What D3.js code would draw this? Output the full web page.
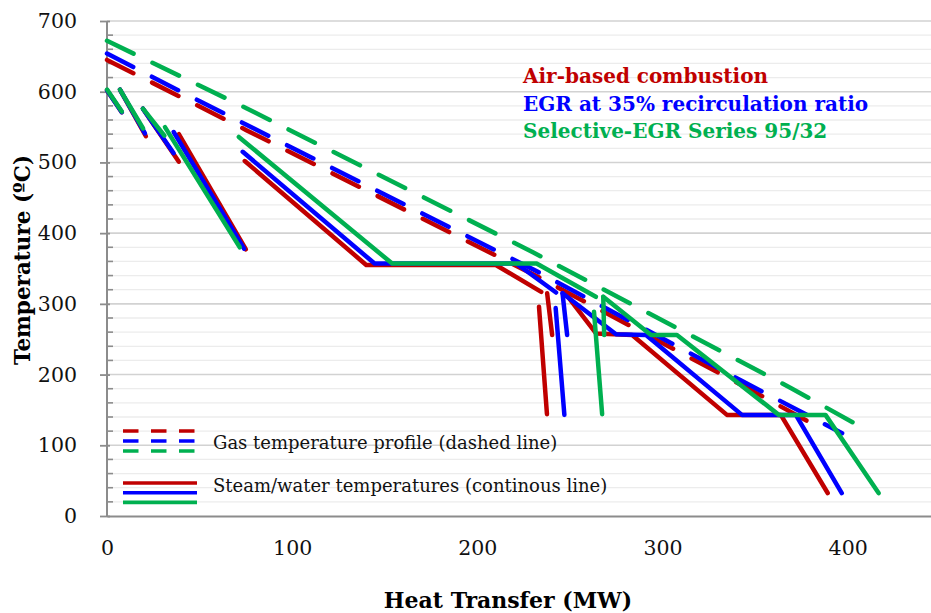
<!DOCTYPE html>
<html>
<head>
<meta charset="utf-8">
<script src="https://cdn.jsdelivr.net/npm/d3@7"></script>
<style>
  body { margin: 0; background: #fff; }
  text { font-family: "DejaVu Serif", serif; }
</style>
</head>
<body>
<div id="chart"></div>
<script>
// tick values
var xTicks = [0, 100, 200, 300, 400]
var yTicks = [0, 100, 200, 300, 400, 500, 600, 700]

// gas temperature profiles (MW, degC) - dashed
var gasAir = [[0, 645], [75, 546], [230, 342], [345, 182], [385, 124.5]]
var gasEgr = [[0, 654], [40, 600], [230, 349], [344, 189.5], [397, 117]]
var gasSel = [[0, 672], [75, 577], [230, 373], [370, 180], [410, 122]]

// steam / water temperatures - one array per heat exchanger section
var steamAir = [
	[[0, 602], [8, 571]],
	[[7, 603], [21, 537]],
	[[19.4, 576], [38.8, 501]],
	[[38.8, 540], [75, 377]],
	[[74.4, 502], [140, 355], [210, 355], [234.5, 317]],
	[[237.7, 315], [240.4, 256]],
	[[233.3, 296], [237.6, 144]],
	[[246.9, 317], [264.2, 258], [283.6, 256], [334.8, 143], [363.9, 143], [389.2, 32.5]]
]
var steamEgr = [
	[[0, 602], [8, 571]],
	[[7, 603], [20.5, 541]],
	[[19.4, 576], [36, 513]],
	[[36, 543], [74, 378]],
	[[73.3, 515], [144.5, 357], [221, 357], [242.5, 316]],
	[[246, 315], [248.5, 256]],
	[[242.3, 294], [247, 143]],
	[[246, 315], [274.9, 257], [291.1, 256], [342.9, 143], [372, 143], [396.8, 32.5]]
]
var steamSel = [
	[[0, 603], [8, 572]],
	[[7, 603], [19.5, 548]],
	[[19.4, 576], [31, 538]],
	[[31.3, 550], [71.7, 380]],
	[[71.2, 536], [154, 357], [232, 357], [264, 310]],
	[[268, 310], [268.5, 256]],
	[[263, 289], [267.4, 144]],
	[[268, 310], [293.8, 256], [307.8, 256], [362.8, 143], [388, 143], [416.7, 32.5]]
]

var seriesNames = ["Air-based combustion", "EGR at 35% recirculation ratio", "Selective-EGR Series 95/32"]
var seriesColours = ["#C00000", "#0000FF", "#00B050"]
var legendLabels = ["Gas temperature profile (dashed line)", "Steam/water temperatures (continous line)"]

var w = 931, h = 613
var margin = {left: 107, right: 0, top: 21, bottom: 97}

var svg = d3.select("#chart")
	.append("svg")
	.attr("width", w)
	.attr("height", h)

var x = d3.scaleLinear().domain([0, 445]).range([margin.left, w - margin.right])
var y = d3.scaleLinear().domain([0, 700]).range([h - margin.bottom, margin.top])

// minor grid every 20
var minor = d3.range(20, 700, 20).filter(function(d) { return d % 100 != 0 })
svg.append("g").selectAll("line")
	.data(minor)
	.enter().append("line")
	.attr("x1", x(0)).attr("x2", x(445))
	.attr("y1", function(d) { return y(d) }).attr("y2", function(d) { return y(d) })
	.style("stroke", "#ececec").style("stroke-width", 1.3)

// major grid
svg.append("g").selectAll("line")
	.data(yTicks.slice(1))
	.enter().append("line")
	.attr("x1", x(0)).attr("x2", x(445))
	.attr("y1", function(d) { return y(d) }).attr("y2", function(d) { return y(d) })
	.style("stroke", "#d2d2d2").style("stroke-width", 1.6)

// y axis with outward major ticks
var yAxis = svg.append("g")
	.attr("transform", "translate(" + x(0) + ",0)")
	.call(d3.axisLeft(y).tickValues(yTicks).tickSize(7).tickPadding(23))
yAxis.select(".domain").remove()
yAxis.selectAll("line").style("stroke", "#8c8c8c").style("stroke-width", 1.8).attr("x2", -7).attr("x1", 3)
yAxis.selectAll("text").style("font-size", "20.5px").style("fill", "#111")

// inward minor ticks
svg.append("g").selectAll("line")
	.data(minor)
	.enter().append("line")
	.attr("x1", x(0)).attr("x2", x(0) + 6)
	.attr("y1", function(d) { return y(d) }).attr("y2", function(d) { return y(d) })
	.style("stroke", "#8c8c8c").style("stroke-width", 1.6)

svg.append("line")
	.attr("x1", x(0)).attr("x2", x(0))
	.attr("y1", y(0)).attr("y2", y(700))
	.style("stroke", "#8c8c8c").style("stroke-width", 2)

// x axis
var xAxis = svg.append("g")
	.attr("transform", "translate(0," + y(0) + ")")
	.call(d3.axisBottom(x).tickValues(xTicks).tickSize(0).tickPadding(24))
xAxis.select(".domain").style("stroke", "#8c8c8c").style("stroke-width", 2)
xAxis.selectAll("text").style("font-size", "20.5px").style("fill", "#111")

// axis titles
svg.append("text")
	.attr("x", 508).attr("y", 608)
	.attr("text-anchor", "middle")
	.style("font-size", "22px").style("font-weight", "bold")
	.text("Heat Transfer (MW)")

svg.append("text")
	.attr("transform", "translate(30,260) rotate(-90)")
	.attr("text-anchor", "middle")
	.style("font-size", "21.5px").style("font-weight", "bold")
	.text("Temperature (ºC)")

var line = d3.line()
	.x(function(d) { return x(d[0]) })
	.y(function(d) { return y(d[1]) })

var gas = [gasAir, gasEgr, gasSel]
var steam = [steamAir, steamEgr, steamSel]

var linesG = svg.append("g")
	.style("fill", "none")
	.style("stroke-linecap", "round")
	.style("stroke-linejoin", "round")

gas.forEach(function(g, i) {
	linesG.append("path")
		.attr("d", line(g))
		.style("stroke", seriesColours[i])
		.style("stroke-width", 4.5)
		.style("stroke-dasharray", "29.5,21")

	linesG.selectAll(".steam" + i)
		.data(steam[i])
		.enter().append("path")
		.attr("class", "steam" + i)
		.attr("d", line)
		.style("stroke", seriesColours[i])
		.style("stroke-width", 4.5)
})

// series legend, top right
svg.append("g").selectAll("text")
	.data(seriesNames)
	.enter().append("text")
	.attr("x", 523)
	.attr("y", function(d, i) { return 83 + i * 27.5 })
	.style("font-size", "20px").style("font-weight", "bold")
	.style("fill", function(d, i) { return seriesColours[i] })
	.text(function(d) { return d })

// line style legend, bottom left
var leg = svg.append("g")
seriesColours.forEach(function(c, i) {
	leg.append("line")
		.attr("x1", 123).attr("x2", 195)
		.attr("y1", 431 + i * 10).attr("y2", 431 + i * 10)
		.style("stroke", c).style("stroke-width", 3.6)
		.style("stroke-dasharray", "15.5,12.5")
	leg.append("line")
		.attr("x1", 123).attr("x2", 197)
		.attr("y1", 483 + i * 9.7).attr("y2", 483 + i * 9.7)
		.style("stroke", c).style("stroke-width", 3.6)
})
leg.selectAll("text")
	.data(legendLabels)
	.enter().append("text")
	.attr("x", 213)
	.attr("y", function(d, i) { return 449 + i * 43 })
	.style("font-size", "18px").style("fill", "#111")
	.text(function(d) { return d })
</script>
</body>
</html>
